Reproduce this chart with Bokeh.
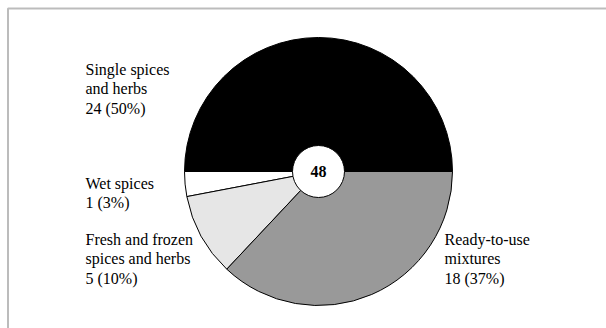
import math
from bokeh.plotting import figure
from bokeh.models import BoxAnnotation, ColumnDataSource, Label
from bokeh.embed import file_html
from bokeh.resources import INLINE

# Data
categories = [["Single spices", "and herbs"], ["Wet spices"],
              ["Fresh and frozen", "spices and herbs"], ["Ready-to-use", "mixtures"]]
counts = [24, 1, 5, 18]
percents = [50, 3, 10, 37]
total = 48
colors = ["#000000", "#ffffff", "#e6e6e6", "#999999"]

FONT = "Liberation Serif"

W, H = 606, 328
p = figure(width=W, height=H, x_range=(0, W), y_range=(0, H),
           output_backend="svg", toolbar_location=None, min_border=0)
p.axis.visible = False
p.grid.visible = False
p.outline_line_color = None

# pie slices
cx, cy, r = 318, H - 171, 134
starts, ends = [], []
acc = 0.0
for pc in percents:
    starts.append(math.radians(acc * 3.6))
    acc += pc
    ends.append(math.radians(acc * 3.6))
src = ColumnDataSource(dict(start=starts, end=ends, color=colors))
p.wedge(x=cx, y=cy, radius=r, start_angle="start", end_angle="end",
        fill_color="color", line_color="black", line_width=1, source=src)

p.circle(x=[cx], y=[cy], radius=26, fill_color="white", line_color="black", line_width=1)
p.add_layout(Label(x=cx, y=cy, text=str(total), text_align="center", text_baseline="middle",
                   text_font=FONT, text_font_size="16px", text_font_style="bold",
                   text_color="black"))

# label lines, one Label per line
lx0 = [85, 85, 85, 444]
ly0 = [69, 183, 239, 239]   # centre of first line, pixels from top
LH = 19.3
for lines, n, pc, x0, y0 in zip(categories, counts, percents, lx0, ly0):
    all_lines = lines + [f"{n} ({pc}%)"]
    for k, s in enumerate(all_lines):
        p.add_layout(Label(x=x0, y=H - (y0 + k * LH), text=s, text_baseline="middle",
                           text_font=FONT, text_font_size="16px", text_color="black"))

# frame
p.add_layout(BoxAnnotation(left=7.5, right=W + 20, top=H - 8, bottom=-20,
                           fill_alpha=0, line_color="#222222", line_width=2))

open("out.html", "w").write(file_html(p, INLINE))
